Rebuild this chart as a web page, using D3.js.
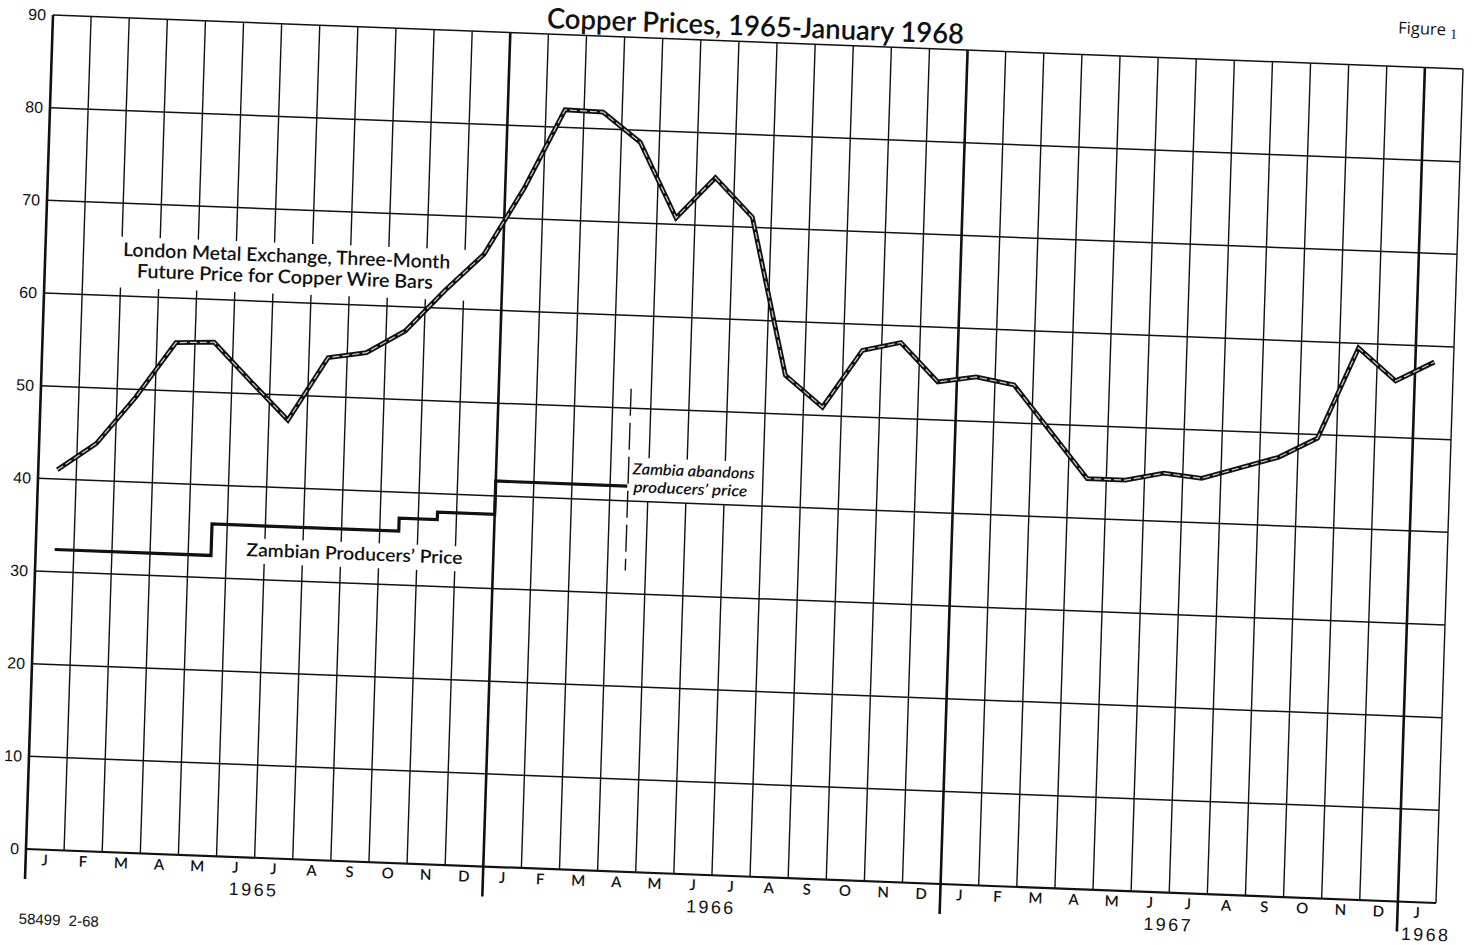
<!DOCTYPE html>
<html>
<head>
<meta charset="utf-8">
<script src="https://cdn.jsdelivr.net/npm/d3@7"></script>
<style>
	body { margin: 0; background: #fff; }
	svg { display: block; }
</style>
</head>
<body>
<div id="chart-area"></div>
<script>
// SVG Size
let width = 1473,
	height = 945;

// flat plot size, the scan is skewed afterwards with one matrix
let plotW = 1410,
	plotH = 834;

// Jan 1965 .. Jan 1968
let monthLabels = ["J","F","M","A","M","J","J","A","S","O","N","D",
	"J","F","M","A","M","J","J","A","S","O","N","D",
	"J","F","M","A","M","J","J","A","S","O","N","D",
	"J"];
let yearLabels = ["1965", "1966", "1967", "1968"];
let yTicks = [0, 10, 20, 30, 40, 50, 60, 70, 80, 90];

// London Metal Exchange, three-month future price (monthly)
let lmePrice = [
	41.0, 44.0, 49.2, 55.2, 55.4, 51.3, 47.3, 54.2, 54.9, 57.4, 61.9, 66.0,
	73.3, 81.9, 81.8, 78.7, 70.7, 75.2, 71.1, 54.2, 50.9, 57.2, 58.2, 54.1,
	54.8, 54.1, 49.2, 44.3, 44.3, 45.2, 44.8, 46.1, 47.4, 49.6, 59.5, 56.1,
	58.3
];

// Zambian producers' price, steps (month position from Jan 1965)
let zambiaMonth = [0.5, 4.6, 9.5, 10.5, 12.0, 15.45];
let zambiaPrice = [32.4, 35.8, 37.2, 38.0, 41.6, 41.6];

// "Zambia abandons producers' price" marker
let abandonMonth = 15.47;
let abandonRange = [32.5, 52.1];

let xScale = d3.scaleLinear()
			.domain([0, monthLabels.length])
			.range([0, plotW]);

let yScale = d3.scaleLinear()
			.domain([0, 90])
			.range([plotH, 0]);

let monthBand = d3.scaleBand()
			.domain(d3.range(monthLabels.length))
			.range([0, plotW]);

let svg = d3.select("#chart-area")
			.append("svg")
			.attr("width", width)
			.attr("height", height);

svg.append("rect")
	.attr("width", width)
	.attr("height", height)
	.attr("fill", "#fff");

// whole page is slightly skewed in the scan
let page = svg.append("g")
			.attr("transform", "matrix(1,0.0383,-0.0324,1,53,15)");

let ink = "#111";
let futura = "Lato, 'DejaVu Sans', sans-serif";

// vertical month lines, year lines thicker and longer
let cols = d3.range(0, monthLabels.length + 1);
page.append("g")
	.selectAll("line")
	.data(cols)
	.join("line")
	.attr("x1", d => xScale(d))
	.attr("x2", d => xScale(d))
	.attr("y1", 0)
	.attr("y2", d => (d % 12 === 0 && d < monthLabels.length) ? plotH + 30 : plotH)
	.attr("stroke", ink)
	.attr("stroke-width", d => (d % 12 === 0 && d < monthLabels.length) ? 2.6 : 1.4);

// white boxes behind the labels
let masks = [
	{c0: 1.84, c1: 11.28, v0: 66.4, v1: 60.9},
	{c0: 5.4, c1: 11.35, v0: 34.4, v1: 31.7},
	{c0: 15.53, c1: 18.9, v0: 44.7, v1: 40.0}
];
page.append("g")
	.selectAll("rect")
	.data(masks)
	.join("rect")
	.attr("x", d => xScale(d.c0))
	.attr("width", d => xScale(d.c1) - xScale(d.c0))
	.attr("y", d => yScale(d.v0))
	.attr("height", d => yScale(d.v1) - yScale(d.v0))
	.attr("fill", "#fff");

// horizontal lines
page.append("g")
	.selectAll("line")
	.data(yTicks)
	.join("line")
	.attr("x1", 0)
	.attr("x2", plotW)
	.attr("y1", d => yScale(d))
	.attr("y2", d => yScale(d))
	.attr("stroke", ink)
	.attr("stroke-width", d => d === 0 ? 2.2 : 1.5);

// y labels
let yAxis = d3.axisLeft(yScale)
			.tickValues(yTicks)
			.tickSize(0)
			.tickPadding(7);

page.append("g")
	.call(yAxis)
	.call(g => g.select(".domain").remove())
	.attr("font-family", "'Liberation Sans', Arial, sans-serif")
	.attr("font-size", 16)
	.selectAll("text")
	.attr("fill", ink);

// month letters
let xAxis = d3.axisBottom(monthBand)
			.tickFormat(i => monthLabels[i])
			.tickSize(0)
			.tickPadding(5);

page.append("g")
	.attr("transform", "translate(0," + plotH + ")")
	.call(xAxis)
	.call(g => g.select(".domain").remove())
	.attr("font-family", futura)
	.attr("font-size", 15)
	.attr("font-weight", 600)
	.selectAll("text")
	.attr("fill", ink);

// years
page.append("g")
	.selectAll("text")
	.data(yearLabels)
	.join("text")
	.attr("x", (d, i) => {
		let n = Math.min(12, monthLabels.length - i * 12);
		return n === 12 ? xScale(i * 12 + 6) : xScale(i * 12) + 4;
	})
	.attr("y", plotH + 38)
	.attr("text-anchor", (d, i) => (monthLabels.length - i * 12) >= 12 ? "middle" : "start")
	.attr("font-family", "'Liberation Sans', Arial, sans-serif")
	.attr("font-size", 18)
	.attr("letter-spacing", 2.4)
	.attr("fill", ink)
	.text(d => d);

// Zambian producers' price
let zambia = zambiaMonth.map((m, i) => ({m: m, p: zambiaPrice[i]}));
let stepLine = d3.line()
			.curve(d3.curveStepAfter)
			.x(d => xScale(d.m))
			.y(d => yScale(d.p));

page.append("path")
	.datum(zambia)
	.attr("d", stepLine)
	.attr("fill", "none")
	.attr("stroke", ink)
	.attr("stroke-width", 3.2);

page.append("line")
	.attr("x1", xScale(abandonMonth))
	.attr("x2", xScale(abandonMonth))
	.attr("y1", yScale(abandonRange[1]))
	.attr("y2", yScale(abandonRange[0]))
	.attr("stroke", ink)
	.attr("stroke-width", 1.4)
	.attr("stroke-dasharray", "27,7");

// LME price, drawn as a hollow band like the original
let lmeLine = d3.line()
			.x((d, i) => xScale(i + 0.5))
			.y(d => yScale(d));

page.append("path")
	.datum(lmePrice)
	.attr("d", lmeLine)
	.attr("fill", "none")
	.attr("stroke", ink)
	.attr("stroke-width", 4.8)
	.attr("stroke-linejoin", "miter");

page.append("path")
	.datum(lmePrice)
	.attr("d", lmeLine)
	.attr("fill", "none")
	.attr("stroke", "#cfcfcf")
	.attr("stroke-width", 1.2)
	.attr("stroke-dasharray", "7,3")
	.attr("stroke-linejoin", "miter");

// labels
let labels = [
	{t: "London Metal Exchange, Three-Month", c: 6.33, v: 64.3, size: 19, len: 327, style: "normal", anchor: "middle"},
	{t: "Future Price for Copper Wire Bars", c: 6.3, v: 62.05, size: 19, len: 296, style: "normal", anchor: "middle"},
	{t: "Zambian Producers\u2019 Price", c: 8.36, v: 32.5, size: 18, len: 216, style: "normal", anchor: "middle"},
	{t: "Zambia abandons", c: 15.58, v: 42.9, size: 15.5, len: 122, style: "italic", anchor: "start"},
	{t: "producers\u2019 price", c: 15.61, v: 40.96, size: 15.5, len: 114, style: "italic", anchor: "start"}
];

page.append("g")
	.selectAll("text")
	.data(labels)
	.join("text")
	.attr("x", d => xScale(d.c))
	.attr("y", d => yScale(d.v))
	.attr("text-anchor", d => d.anchor)
	.attr("font-family", futura)
	.attr("font-size", d => d.size)
	.attr("font-style", d => d.style)
	.attr("font-weight", 600)
	.attr("textLength", d => d.len)
	.attr("lengthAdjust", "spacingAndGlyphs")
	.attr("fill", ink)
	.text(d => d.t);

// title and page marks
page.append("text")
	.attr("x", 702)
	.attr("y", -6)
	.attr("text-anchor", "middle")
	.attr("font-family", futura)
	.attr("font-size", 28)
	.attr("font-weight", 600)
	.attr("textLength", 417)
	.attr("lengthAdjust", "spacingAndGlyphs")
	.attr("fill", ink)
	.text("Copper Prices, 1965-January 1968");

let fig = page.append("text")
	.attr("x", 1344)
	.attr("y", -33)
	.attr("font-family", "'Open Sans', sans-serif")
	.attr("font-size", 16.5)
	.attr("fill", ink);
fig.append("tspan").text("Figure ");
fig.append("tspan").attr("font-size", 14).attr("dy", 3).attr("font-family", "'Liberation Serif', serif").text("1");

page.append("text")
	.attr("x", -5)
	.attr("y", plotH + 75)
	.attr("font-family", "'Liberation Sans', Arial, sans-serif")
	.attr("font-size", 15)
	.attr("fill", ink)
	.attr("xml:space", "preserve")
	.text("58499  2-68");
</script>
</body>
</html>
